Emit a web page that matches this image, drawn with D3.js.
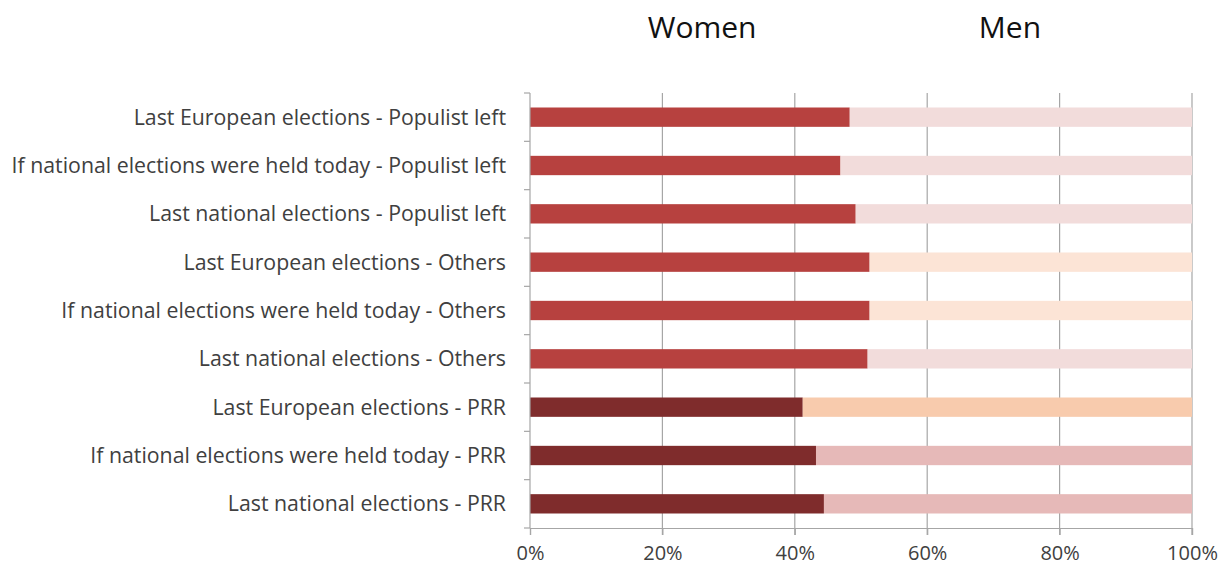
<!DOCTYPE html>
<html>
<head>
<meta charset="utf-8">
<script src="https://cdn.jsdelivr.net/npm/d3@7"></script>
<style>
body { margin: 0; background: #fff; }
text { font-family: "Open Sans", sans-serif; fill: #404040; }
.title { fill: #111; }
</style>
</head>
<body>
<script>
// categories, top to bottom
var categories = [
    "Last European elections - Populist left",
    "If national elections were held today - Populist left",
    "Last national elections - Populist left",
    "Last European elections - Others",
    "If national elections were held today - Others",
    "Last national elections - Others",
    "Last European elections - PRR",
    "If national elections were held today - PRR",
    "Last national elections - PRR"
];

// share of women (%), men is the rest up to 100
var women = [48.3, 46.9, 49.2, 51.3, 51.3, 51.0, 41.2, 43.2, 44.4];
var men = women.map(function(w){ return 100 - w; });

// bar colours per row
var womenColors = ["#b7413f", "#b7413f", "#b7413f", "#b7413f", "#b7413f", "#b7413f", "#7f2c2c", "#7f2c2c", "#7f2c2c"];
var menColors = ["#f2dcdb", "#f2dcdb", "#f2dcdb", "#fce4d6", "#fce4d6", "#f2dcdb", "#f8cbad", "#e6b9b8", "#e6b9b8"];

var xTicks = [0, 20, 40, 60, 80, 100];
var seriesTitles = ["Women", "Men"];
var titlePos = [26, 72.5];

//chart frame
var width = 1225,
    height = 568;
var margin = {top: 93, right: 33, bottom: 40, left: 530};

var svg = d3.select("body")
    .append("svg")
    .attr("width", width)
    .attr("height", height);

var x = d3.scaleLinear()
    .domain([0, 100])
    .range([margin.left, width - margin.right]);

var y = d3.scaleBand()
    .domain(categories)
    .range([margin.top, height - margin.bottom])
    .paddingInner(0.6)
    .paddingOuter(0.3);

//gridlines
svg.selectAll(".grid")
    .data(xTicks.slice(1))
    .enter()
    .append("line")
    .attr("x1", function(d){ return x(d); })
    .attr("x2", function(d){ return x(d); })
    .attr("y1", margin.top)
    .attr("y2", height - margin.bottom + 7)
    .attr("stroke", "#a6a6a6")
    .attr("stroke-width", 1.2);

//women bars
svg.selectAll(".women")
    .data(categories)
    .enter()
    .append("rect")
    .attr("x", x(0))
    .attr("y", function(d){ return y(d); })
    .attr("width", function(d, i){ return x(women[i]) - x(0); })
    .attr("height", y.bandwidth())
    .attr("fill", function(d, i){ return womenColors[i]; });

//men bars
svg.selectAll(".men")
    .data(categories)
    .enter()
    .append("rect")
    .attr("x", function(d, i){ return x(women[i]); })
    .attr("y", function(d){ return y(d); })
    .attr("width", function(d, i){ return x(100) - x(women[i]); })
    .attr("height", y.bandwidth())
    .attr("fill", function(d, i){ return menColors[i]; });

//x axis
var xAxis = d3.axisBottom(x)
    .tickValues(xTicks)
    .tickFormat(function(d){ return d + "%"; })
    .tickSize(7)
    .tickPadding(11);

var gx = svg.append("g")
    .attr("transform", "translate(0," + (height - margin.bottom) + ")")
    .call(xAxis);
gx.select(".domain").attr("stroke", "#a6a6a6").attr("stroke-width", 1.2);
gx.selectAll(".tick line").attr("stroke", "#a6a6a6").attr("stroke-width", 1.2);
gx.selectAll("text")
    .attr("font-family", "Open Sans")
    .attr("font-size", 20)
    .attr("fill", "#595959");

//y axis with ticks between categories
var bounds = d3.range(categories.length + 1).map(function(i){
    return margin.top + i * (height - margin.bottom - margin.top) / categories.length;
});
svg.append("line")
    .attr("x1", x(0)).attr("x2", x(0))
    .attr("y1", margin.top).attr("y2", height - margin.bottom)
    .attr("stroke", "#a6a6a6")
    .attr("stroke-width", 1.2);
svg.selectAll(".ytick")
    .data(bounds)
    .enter()
    .append("line")
    .attr("x1", x(0) - 6).attr("x2", x(0))
    .attr("y1", function(d){ return d; })
    .attr("y2", function(d){ return d; })
    .attr("stroke", "#a6a6a6")
    .attr("stroke-width", 1.2);

//category labels
svg.selectAll(".label")
    .data(categories)
    .enter()
    .append("text")
    .attr("x", x(0) - 24)
    .attr("y", function(d){ return y(d) + y.bandwidth() / 2; })
    .attr("dy", "0.35em")
    .attr("text-anchor", "end")
    .attr("font-size", 21.3)
    .text(function(d){ return d; });

//series titles
svg.selectAll(".title")
    .data(seriesTitles)
    .enter()
    .append("text")
    .attr("class", "title")
    .attr("x", function(d, i){ return x(titlePos[i]); })
    .attr("y", 38)
    .attr("text-anchor", "middle")
    .attr("font-size", 30)
    .text(function(d){ return d; });
</script>
</body>
</html>
